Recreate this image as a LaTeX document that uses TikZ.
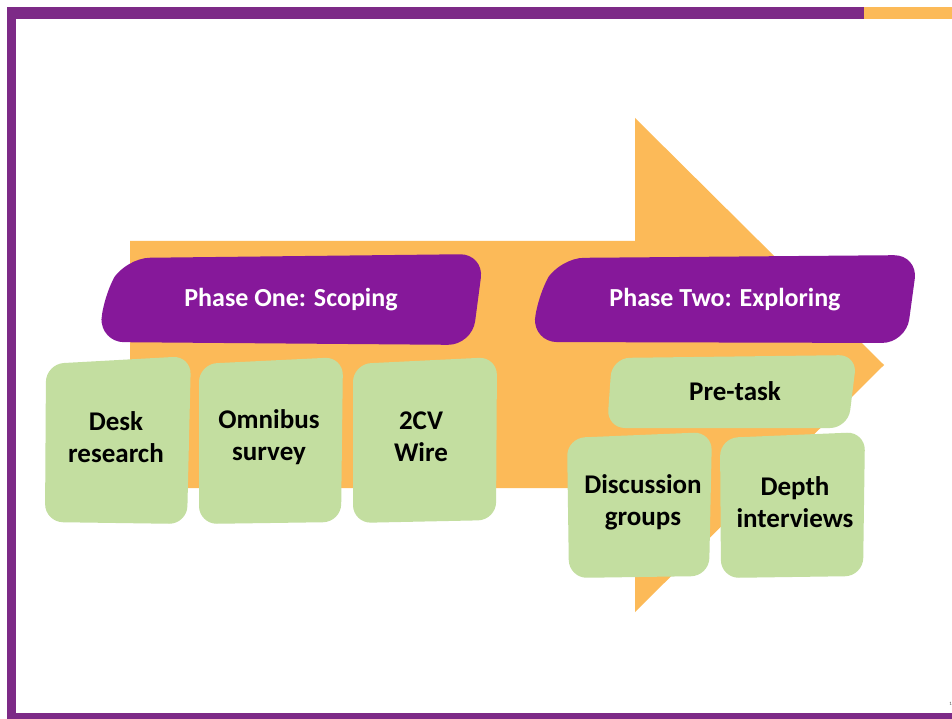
\documentclass[tikz,border=0pt]{standalone}
\usepackage{fontspec}
\setmainfont{Carlito}
\definecolor{framepurple}{HTML}{7D2A87}
\definecolor{bannerpurple}{HTML}{86189A}
\definecolor{arroworange}{HTML}{FCBA58}
\definecolor{boxgreen}{HTML}{C3DEA0}
\begin{document}
\begin{tikzpicture}[x=1pt,y=-1pt,
    banner/.style={fill=bannerpurple, rounded corners=24pt},
    blob/.style={fill=boxgreen, rounded corners=18pt},
    bannertext/.style={text=white, font=\fontsize{26}{30}\selectfont\bfseries},
    boxtext/.style={text=black, align=center, font=\fontsize{27}{32}\selectfont\bfseries}]
    \useasboundingbox (0,0) rectangle (952,719);
    \fill[white] (0,0) rectangle (952,719);
    % frame
    \fill[framepurple] (7,7) rectangle (864,19);
    \fill[arroworange] (864,7) rectangle (952,19);
    \fill[framepurple] (7,7) rectangle (16,719);
    \fill[framepurple] (7,713) rectangle (952,719);
    % big arrow
    \fill[arroworange] (130,241) -- (635,241) -- (635,118) -- (884,365) -- (635,612) -- (635,488) -- (130,488) -- cycle;
    % phase banners
    \fill[banner] (126,258) -- (484,254) -- (472,345) -- (100,342) -- (103,296) -- cycle;
    \node[bannertext] (phaseone) at (291,300) {Phase One: Scoping};
    \fill[banner] (560,258) -- (918,255) -- (906,343) -- (533,342) -- (537,296) -- cycle;
    \node[bannertext] (phasetwo) at (725,300) {Phase Two: Exploring};
    % phase one methods
    \fill[blob] (46,364) -- (191,356) -- (187,524) -- (45,522) -- cycle;
    \node[boxtext] (desk) at (116,437) {Desk\\research};
    \fill[blob] (199,364) -- (343,357) -- (341,522) -- (199,524) -- cycle;
    \node[boxtext] (omnibus) at (269,437) {Omnibus\\survey};
    \fill[blob] (353,364) -- (497,357) -- (496,520) -- (353,523) -- cycle;
    \node[boxtext] (wire) at (421,437) {2CV\\Wire};
    % phase two methods
    \fill[blob] (612,358) -- (857,355) -- (848,428) -- (607,428) -- cycle;
    \node[boxtext] (pretask) at (735,391) {Pre-task};
    \fill[blob] (567,438) -- (712,432) -- (709,576) -- (569,578) -- cycle;
    \node[boxtext] (groups) at (643,502) {Discussion\\groups};
    \fill[blob] (720,438) -- (865,432) -- (863,576) -- (721,578) -- cycle;
    \node[boxtext] (depth) at (795,502) {Depth\\interviews};
    % page number
    \node[text=black!70, font=\fontsize{5}{6}\selectfont, anchor=east, inner sep=0pt] (pagenum) at (952,704) {1};
\end{tikzpicture}
\end{document}
